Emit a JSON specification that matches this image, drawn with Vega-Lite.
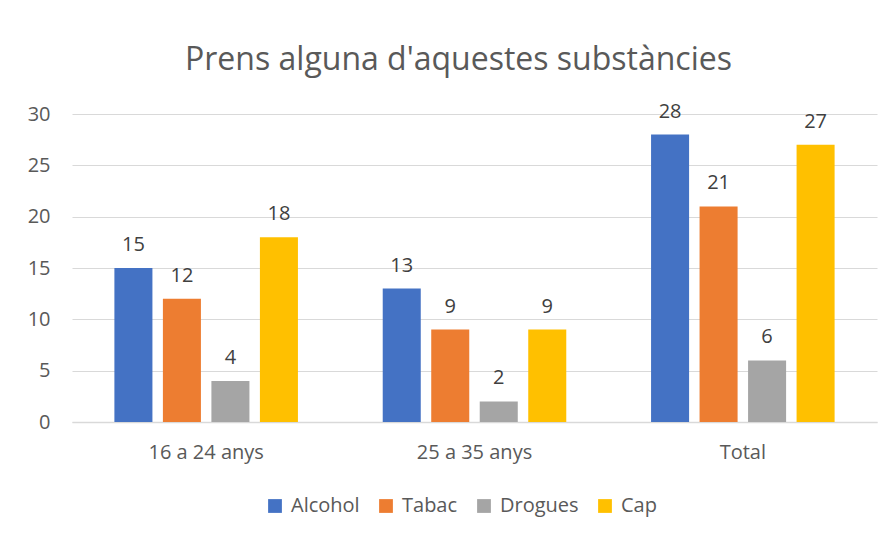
{
  "$schema": "https://vega.github.io/schema/vega-lite/v6.json",
  "width": 805,
  "height": 308,
  "autosize": {"type": "none"},
  "padding": {"left": 72, "top": 114, "right": 16, "bottom": 116},
  "background": "white",
  "title": {
    "text": "Prens alguna d'aquestes substàncies",
    "font": "Open Sans",
    "fontSize": 32,
    "fontWeight": "normal",
    "color": "#595959",
    "anchor": "middle",
    "offset": 25,
    "dx": -16
  },
  "data": {
    "values": [
      {"grup": "16 a 24 anys", "substancia": "Alcohol", "valor": 15},
      {"grup": "16 a 24 anys", "substancia": "Tabac", "valor": 12},
      {"grup": "16 a 24 anys", "substancia": "Drogues", "valor": 4},
      {"grup": "16 a 24 anys", "substancia": "Cap", "valor": 18},
      {"grup": "25 a 35 anys", "substancia": "Alcohol", "valor": 13},
      {"grup": "25 a 35 anys", "substancia": "Tabac", "valor": 9},
      {"grup": "25 a 35 anys", "substancia": "Drogues", "valor": 2},
      {"grup": "25 a 35 anys", "substancia": "Cap", "valor": 9},
      {"grup": "Total", "substancia": "Alcohol", "valor": 28},
      {"grup": "Total", "substancia": "Tabac", "valor": 21},
      {"grup": "Total", "substancia": "Drogues", "valor": 6},
      {"grup": "Total", "substancia": "Cap", "valor": 27}
    ]
  },
  "encoding": {
    "x": {
      "field": "grup",
      "type": "nominal",
      "sort": null,
      "scale": {"paddingInner": 0, "paddingOuter": 0},
      "axis": {
        "title": null,
        "labelAngle": 0,
        "labelFont": "Open Sans",
        "labelFontSize": 20,
        "labelColor": "#595959",
        "labelPadding": 20,
        "ticks": false,
        "domainColor": "#d9d9d9",
        "domainWidth": 1.5
      }
    },
    "xOffset": {
      "field": "substancia",
      "type": "nominal",
      "sort": ["Alcohol", "Tabac", "Drogues", "Cap"],
      "scale": {"paddingInner": 0.216, "paddingOuter": 0.874}
    },
    "y": {
      "field": "valor",
      "type": "quantitative",
      "scale": {"domain": [0, 30]},
      "axis": {
        "title": null,
        "values": [0, 5, 10, 15, 20, 25, 30],
        "labelFont": "Open Sans",
        "labelFontSize": 20,
        "labelColor": "#595959",
        "labelPadding": 22,
        "ticks": false,
        "domain": false,
        "gridColor": "#d9d9d9",
        "gridWidth": 1.2
      }
    }
  },
  "layer": [
    {
      "mark": {"type": "bar"},
      "encoding": {
        "color": {
          "field": "substancia",
          "type": "nominal",
          "sort": ["Alcohol", "Tabac", "Drogues", "Cap"],
          "scale": {
            "domain": ["Alcohol", "Tabac", "Drogues", "Cap"],
            "range": ["#4472c4", "#ed7d31", "#a5a5a5", "#ffc000"]
          },
          "legend": {
            "title": null,
            "orient": "none",
            "legendX": 193,
            "legendY": 382,
            "direction": "horizontal",
            "symbolType": "square",
            "symbolSize": 190,
            "symbolStrokeWidth": 0,
            "labelFont": "Open Sans",
            "labelFontSize": 20,
            "labelColor": "#595959",
            "columnPadding": 16,
            "labelOffset": 6
          }
        }
      }
    },
    {
      "mark": {
        "type": "text",
        "baseline": "bottom",
        "dy": -13,
        "font": "Open Sans",
        "fontSize": 20,
        "color": "#404040"
      },
      "encoding": {
        "text": {"field": "valor", "type": "quantitative"}
      }
    }
  ],
  "config": {
    "view": {"stroke": null}
  }
}
